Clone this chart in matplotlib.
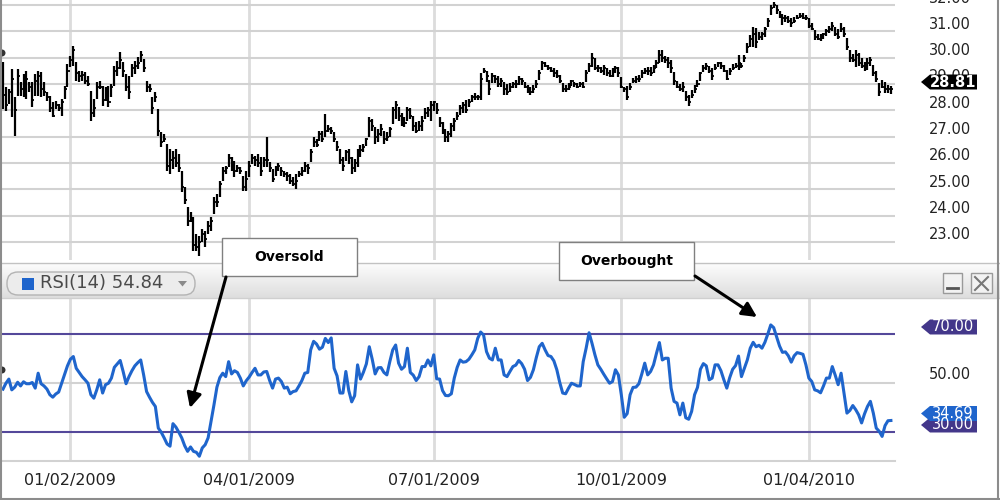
import numpy as np
import pandas as pd
import matplotlib
matplotlib.use("Agg")
import matplotlib.pyplot as plt
from matplotlib.patches import Rectangle, FancyBboxPatch, Polygon, Circle, FancyArrowPatch
from matplotlib.lines import Line2D
from matplotlib.colors import LinearSegmentedColormap
from matplotlib.transforms import IdentityTransform

# trading calendar of the chart (NYSE holidays removed)
holidays = ["2008-11-27", "2008-12-25", "2009-01-01", "2009-01-19", "2009-02-16",
            "2009-04-10", "2009-05-25", "2009-07-03", "2009-09-07", "2009-11-26",
            "2009-12-25", "2010-01-01", "2010-01-18", "2010-02-15"]
dates = pd.bdate_range("2008-11-28", "2010-02-12", freq="C", holidays=holidays)

# daily bars
closes = [
    28.6, 28.2, 28.7, 29.2, 28.0, 29.3, 28.8, 29.0, 29.2, 28.9,
    28.4, 29.1, 29.3, 28.8, 28.7, 28.5, 28.1, 27.8, 28.2, 28.1,
    28.3, 28.8, 29.5, 29.9, 30.3, 29.4, 29.3, 29.35, 29.1, 29.0,
    27.9, 28.1, 28.9, 28.9, 28.4, 28.6, 28.3, 28.9, 29.5, 29.6,
    29.9, 29.5, 28.9, 28.7, 29.6, 29.7, 29.8, 30.1, 29.6, 28.9,
    28.8, 28.1, 28.5, 27.2, 26.8, 26.9, 25.9, 26.1, 26.2, 26.0,
    25.8, 25.1, 24.6, 23.8, 23.9, 22.9, 22.8, 23.0, 23.3, 23.1,
    23.6, 23.8, 24.5, 24.5, 25.2, 25.7, 25.8, 26.2, 26.0, 25.7,
    25.8, 25.7, 25.1, 25.4, 25.9, 26.2, 26.1, 26.0, 25.7, 26.1,
    26.1, 25.8, 25.4, 25.8, 25.9, 25.7, 25.6, 25.5, 25.3, 25.2,
    25.3, 25.6, 25.7, 25.9, 25.8, 26.4, 26.8, 26.7, 27.1, 26.9,
    27.2, 27.3, 27.2, 26.9, 26.6, 26.1, 25.9, 26.4, 26.2, 25.8,
    26.0, 26.4, 26.5, 26.6, 26.9, 27.6, 27.4, 27.0, 27.1, 27.3,
    26.9, 27.0, 27.3, 28.0, 28.2, 27.8, 27.6, 27.5, 28.0, 27.8,
    27.4, 27.2, 27.4, 27.6, 27.9, 28.0, 28.2, 28.3, 28.0, 27.5,
    27.2, 27.0, 27.1, 27.4, 27.6, 27.8, 28.1, 28.2, 28.0, 28.3,
    28.5, 28.5, 28.5, 29.2, 29.5, 29.3, 28.8, 29.3, 29.2, 29.0,
    29.1, 28.8, 28.7, 28.9, 29.0, 29.0, 29.2, 29.1, 28.9, 28.8,
    28.7, 28.8, 29.0, 29.4, 29.8, 29.7, 29.6, 29.5, 29.4, 29.3,
    29.1, 28.8, 28.8, 28.9, 29.1, 29.0, 28.9, 29.0, 28.9, 29.4,
    29.7, 30.0, 29.6, 29.6, 29.5, 29.6, 29.4, 29.3, 29.5, 29.6,
    29.4, 28.9, 28.8, 28.5, 28.9, 29.1, 29.2, 29.2, 29.4, 29.5,
    29.5, 29.4, 29.6, 29.8, 30.1, 30.0, 29.9, 29.8, 29.6, 29.1,
    28.9, 28.8, 28.9, 28.5, 28.3, 28.6, 28.8, 29.0, 29.4, 29.6,
    29.7, 29.5, 29.3, 29.6, 29.8, 29.7, 29.5, 29.2, 29.5, 29.6,
    29.7, 29.8, 29.7, 30.0, 30.4, 30.7, 30.9, 30.6, 30.8, 30.9,
    31.1, 31.4, 31.9, 32.0, 31.8, 31.6, 31.5, 31.5, 31.4, 31.3,
    31.4, 31.5, 31.6, 31.5, 31.5, 31.2, 31.1, 30.8, 30.7, 30.8,
    30.9, 31.0, 31.1, 31.2, 30.9, 30.8, 31.1, 30.9, 30.4, 30.0,
    29.9, 30.1, 29.8, 29.7, 29.6, 29.8, 29.9, 29.4, 29.2, 28.7,
    28.9, 28.8, 28.8, 28.81,
]
highs = [
    29.82, 28.87, 28.8, 29.57, 28.5, 29.57, 29.06, 29.38, 29.51, 29.06,
    29.06, 29.38, 29.51, 29.44, 29.06, 28.68, 28.55, 28.3, 28.37, 28.24,
    28.43, 28.94, 29.76, 30.08, 30.46, 29.82, 29.51, 29.51, 29.44, 29.31,
    28.75, 28.43, 29.06, 29.13, 28.94, 28.87, 28.94, 29.0, 29.7, 29.89,
    30.2, 29.82, 29.38, 29.31, 29.76, 29.89, 30.01, 30.27, 29.95, 29.13,
    29.0, 28.49, 28.68, 28.05, 27.16, 27.1, 26.72, 26.53, 26.47, 26.53,
    26.34, 25.71, 25.08, 24.32, 24.13, 23.94, 23.3, 23.24, 23.49, 23.43,
    23.81, 23.94, 24.7, 24.82, 25.33, 25.84, 25.9, 26.34, 26.22, 26.09,
    25.94, 25.84, 25.52, 25.71, 26.09, 26.34, 26.28, 26.34, 26.22, 26.22,
    26.97, 26.03, 25.77, 25.9, 25.99, 25.84, 25.71, 25.65, 25.58, 25.46,
    25.58, 25.71, 25.84, 26.03, 25.96, 26.53, 26.97, 26.91, 27.23, 27.23,
    27.86, 27.46, 27.35, 27.16, 26.85, 26.53, 26.22, 26.49, 26.53, 26.22,
    26.15, 26.53, 26.7, 26.72, 26.95, 27.73, 27.67, 27.35, 27.29, 27.48,
    27.23, 27.16, 27.38, 28.11, 28.37, 28.14, 27.89, 27.76, 28.14, 28.09,
    27.8, 27.54, 27.61, 27.8, 28.09, 28.14, 28.37, 28.37, 28.27, 27.73,
    27.54, 27.3, 27.2, 27.5, 27.7, 27.95, 28.2, 28.33, 28.39, 28.42,
    28.58, 28.65, 28.58, 29.41, 29.6, 29.5, 29.15, 29.43, 29.34, 29.3,
    29.22, 29.09, 29.0, 29.03, 29.09, 29.15, 29.3, 29.22, 29.09, 28.96,
    28.87, 28.96, 29.15, 29.53, 29.89, 29.85, 29.72, 29.66, 29.6, 29.53,
    29.34, 29.03, 28.96, 29.03, 29.15, 29.09, 29.03, 29.09, 29.09, 29.53,
    29.78, 30.16, 29.97, 29.72, 29.66, 29.72, 29.6, 29.53, 29.6, 29.68,
    29.66, 29.25, 28.87, 28.92, 29.03, 29.22, 29.3, 29.34, 29.53, 29.6,
    29.66, 29.66, 29.72, 29.91, 30.29, 30.29, 30.06, 30.04, 29.91, 29.47,
    29.11, 29.0, 29.09, 28.75, 28.58, 28.77, 28.96, 29.15, 29.47, 29.72,
    29.78, 29.68, 29.6, 29.75, 29.85, 29.82, 29.72, 29.53, 29.6, 29.75,
    29.78, 30.1, 29.81, 30.1, 30.54, 30.86, 31.18, 31.11, 30.99, 30.99,
    31.18, 31.49, 32.0, 32.13, 32.0, 31.78, 31.66, 31.62, 31.58, 31.49,
    31.53, 31.62, 31.68, 31.68, 31.62, 31.49, 31.3, 31.05, 30.89, 30.9,
    30.95, 31.08, 31.2, 31.35, 31.15, 31.08, 31.3, 31.18, 30.73, 30.29,
    30.14, 30.29, 30.16, 29.97, 29.85, 29.97, 30.01, 29.72, 29.51, 29.05,
    29.15, 29.09, 28.96, 28.92,
]
lows = [
    28.05, 27.99, 28.24, 27.73, 27.04, 28.55, 28.55, 28.49, 28.43, 28.68,
    28.11, 28.55, 28.55, 28.49, 28.55, 28.37, 27.92, 27.73, 28.05, 27.99,
    27.8, 28.43, 28.87, 29.63, 29.7, 29.13, 29.06, 29.13, 29.0, 28.94,
    27.61, 27.73, 28.43, 28.81, 28.18, 28.37, 28.11, 28.49, 28.94, 29.32,
    29.57, 29.25, 28.75, 28.43, 29.25, 29.38, 29.57, 29.82, 29.44, 28.68,
    28.68, 27.86, 28.3, 27.04, 26.59, 26.78, 25.71, 25.58, 25.77, 25.84,
    25.65, 24.89, 24.44, 23.62, 23.75, 22.67, 22.67, 22.48, 22.99, 22.8,
    23.3, 23.43, 24.06, 24.32, 24.7, 25.33, 25.58, 25.84, 25.71, 25.46,
    25.65, 25.58, 24.95, 24.95, 25.46, 25.96, 25.9, 25.84, 25.52, 25.84,
    25.84, 25.65, 25.27, 25.52, 25.71, 25.52, 25.46, 25.33, 25.2, 25.14,
    25.01, 25.46, 25.52, 25.65, 25.58, 26.03, 26.59, 26.62, 26.85, 26.78,
    26.97, 27.16, 27.1, 26.78, 26.47, 25.96, 25.71, 26.09, 25.96, 25.58,
    25.65, 25.84, 26.22, 26.41, 26.66, 26.97, 27.23, 26.72, 26.78, 27.04,
    26.72, 26.85, 26.97, 27.48, 27.67, 27.61, 27.42, 27.35, 27.61, 27.67,
    27.23, 27.13, 27.2, 27.23, 27.67, 27.73, 27.61, 27.99, 27.86, 27.35,
    27.1, 26.8, 26.8, 27.0, 27.2, 27.63, 27.82, 27.89, 27.89, 28.11,
    28.33, 28.39, 28.39, 28.39, 29.41, 29.09, 28.58, 29.03, 29.03, 28.87,
    28.9, 28.58, 28.58, 28.71, 28.84, 28.84, 28.96, 28.96, 28.84, 28.67,
    28.58, 28.65, 28.84, 29.15, 29.53, 29.66, 29.53, 29.47, 29.28, 29.22,
    29.03, 28.71, 28.71, 28.77, 28.92, 28.9, 28.84, 28.87, 28.84, 29.09,
    29.47, 29.66, 29.53, 29.47, 29.41, 29.34, 29.3, 29.25, 29.28, 29.43,
    29.28, 28.84, 28.71, 28.39, 28.77, 29.03, 29.05, 29.09, 29.22, 29.38,
    29.34, 29.3, 29.41, 29.6, 29.78, 29.85, 29.81, 29.6, 29.41, 28.96,
    28.84, 28.75, 28.71, 28.37, 28.16, 28.46, 28.67, 28.9, 29.13, 29.47,
    29.53, 29.43, 29.15, 29.53, 29.66, 29.57, 29.47, 29.15, 29.34, 29.53,
    29.6, 29.53, 29.6, 29.85, 30.16, 30.42, 30.42, 30.35, 30.67, 30.67,
    30.8, 31.18, 31.62, 31.87, 31.66, 31.49, 31.24, 31.37, 31.33, 31.18,
    31.3, 31.46, 31.49, 31.46, 31.43, 31.11, 31.05, 30.67, 30.67, 30.65,
    30.7, 30.82, 30.92, 31.03, 30.82, 30.7, 30.99, 30.8, 30.29, 29.85,
    29.85, 29.66, 29.68, 29.6, 29.5, 29.53, 29.68, 29.3, 29.09, 28.54,
    28.84, 28.67, 28.67, 28.62,
]
# RSI(14)
rsi = [
    47.5, 49.9, 51.6, 47.2, 48.3, 50.3, 48.8, 50.5, 49.7, 49.7,
    50.2, 47.9, 54.0, 49.7, 48.8, 47.5, 45.2, 44.2, 45.5, 46.3,
    49.9, 53.6, 57.0, 59.7, 60.8, 56.0, 54.3, 52.6, 51.3, 49.9,
    45.2, 43.8, 47.2, 51.3, 45.9, 49.3, 49.9, 52.0, 56.4, 57.8,
    59.2, 54.7, 49.7, 52.6, 55.0, 57.0, 58.3, 59.4, 53.3, 46.5,
    44.2, 42.1, 40.4, 31.6, 29.9, 27.6, 25.1, 24.2, 33.4, 32.0,
    29.9, 27.6, 24.4, 22.1, 23.9, 22.1, 21.7, 20.1, 23.5, 24.8,
    27.6, 34.3, 41.1, 48.3, 52.2, 54.0, 52.6, 58.7, 53.7, 55.0,
    54.3, 52.0, 48.8, 50.9, 52.4, 54.3, 56.0, 53.3, 53.3, 54.5,
    54.7, 51.0, 47.9, 51.6, 52.0, 50.6, 47.9, 48.3, 45.6, 46.5,
    46.8, 48.8, 51.0, 54.0, 54.3, 63.5, 67.0, 65.9, 63.8, 64.6,
    68.2, 66.5, 68.4, 56.0, 52.9, 45.9, 45.9, 54.7, 46.9, 42.3,
    44.8, 57.4, 51.6, 54.4, 57.8, 64.8, 59.7, 53.7, 56.2, 56.3,
    54.3, 53.3, 58.7, 63.5, 65.5, 58.1, 55.6, 56.7, 64.2, 54.3,
    53.2, 51.0, 52.6, 56.7, 56.7, 59.4, 57.0, 61.5, 51.7, 51.6,
    46.9, 44.9, 44.8, 45.6, 52.0, 56.4, 59.4, 58.5, 58.7, 59.7,
    61.5, 63.5, 68.2, 70.8, 69.6, 62.8, 60.1, 59.4, 64.2, 59.4,
    59.4, 53.3, 52.6, 54.7, 56.7, 57.3, 59.2, 57.9, 55.6, 51.0,
    52.3, 55.4, 60.4, 64.8, 66.2, 63.5, 61.2, 60.8, 59.0, 55.4,
    50.2, 45.9, 45.6, 47.9, 49.9, 49.4, 48.8, 48.8, 58.7, 64.2,
    70.5, 66.2, 61.5, 57.4, 55.6, 53.6, 51.7, 49.9, 50.6, 55.4,
    53.3, 45.2, 36.0, 37.5, 45.2, 48.2, 48.3, 49.7, 53.7, 58.1,
    53.3, 54.7, 57.4, 62.1, 66.5, 59.4, 60.1, 60.1, 47.9, 42.5,
    41.8, 37.0, 41.8, 35.8, 35.2, 38.4, 45.2, 48.2, 55.6, 57.9,
    57.0, 51.3, 52.0, 57.4, 57.4, 55.0, 51.3, 47.9, 52.2, 55.6,
    57.1, 61.0, 52.6, 56.0, 59.4, 64.2, 66.6, 64.8, 65.4, 64.2,
    66.6, 70.0, 73.7, 72.6, 68.9, 65.1, 62.5, 62.7, 61.1, 58.5,
    61.1, 62.4, 62.1, 61.7, 57.4, 52.0, 50.6, 47.2, 46.8, 46.0,
    48.8, 52.0, 52.0, 56.7, 53.2, 49.3, 54.0, 45.9, 37.7, 38.8,
    40.8, 39.1, 37.0, 33.7, 37.4, 40.4, 42.5, 37.7, 31.6, 30.3,
    28.2, 32.6, 34.6, 34.69,
]

price_ticks = [23, 24, 25, 26, 27, 28, 29, 30, 31, 32]
last_price = 28.81
rsi_upper, rsi_mid, rsi_lower = 70, 50, 30
rsi_last = 34.69
rsi_header = "RSI(14) 54.84"
tick_dates = pd.to_datetime(["2009-01-02", "2009-04-01", "2009-07-01",
                             "2009-10-01", "2010-01-04"])
tick_labels = [d.strftime("%m/%d/%Y") for d in tick_dates]

x = np.arange(len(dates))
tick_pos = dates.get_indexer(tick_dates)

W, H = 1000, 500
fig = plt.figure(figsize=(10, 5), dpi=100)
px = IdentityTransform()


def fbox(x0, y0, x1, y1):
    # pixel box measured from the top-left -> figure fraction
    return [x0 / W, 1 - y1 / H, (x1 - x0) / W, (y1 - y0) / H]


GRID = "#d2d2d2"
VGRID = "#dcdcdc"
PURPLE = "#54489a"
TAGPURPLE = "#43378a"
BLUE = "#1f65cc"
XLIM = (-1.02, 304.4)

# ---- price panel
ax = fig.add_axes(fbox(0, 0, 895, 260))
ax.vlines(x, lows, highs, color="black", lw=1.6, zorder=3)
ax.hlines(closes, x, x + 0.7, color="black", lw=1.3, zorder=3)
ax.set_xlim(*XLIM)
ax.set_ylim(22.316, 32.19)
ax.set_yticks(price_ticks)
ax.set_xticks(tick_pos)
ax.grid(True, axis="y", color=GRID, lw=1.5)
ax.grid(True, axis="x", color=VGRID, lw=2.0)
ax.set_axisbelow(True)
ax.tick_params(left=False, bottom=False, labelleft=False, labelbottom=False)
for s in ax.spines.values():
    s.set_visible(False)

# ---- header strip of the RSI pane
axh = fig.add_axes(fbox(0, 263, 1000, 298))
axh.imshow(np.linspace(0, 1, 40).reshape(-1, 1), aspect="auto", extent=[0, 1, 0, 1],
           cmap=LinearSegmentedColormap.from_list("hdr", ["#fdfdfd", "#dedede"]))
axh.axis("off")

# ---- RSI panel
ax2 = fig.add_axes(fbox(0, 298, 895, 461))
ax2.plot(x, rsi, color=BLUE, lw=2.2, zorder=3)
ax2.axhline(rsi_upper, color=PURPLE, lw=1.5, zorder=2)
ax2.axhline(rsi_lower, color=PURPLE, lw=1.5, zorder=2)
ax2.set_xlim(*XLIM)
ax2.set_ylim(18.16, 84.69)
ax2.set_yticks([rsi_mid])
ax2.set_xticks(tick_pos)
ax2.set_xticklabels(tick_labels, fontsize=11.5, color="#222222")
ax2.grid(True, axis="y", color=GRID, lw=1.5)
ax2.grid(True, axis="x", color=VGRID, lw=2.0)
ax2.set_axisbelow(True)
ax2.tick_params(left=False, labelleft=False, length=0, pad=9)
for k, s in ax2.spines.items():
    s.set_visible(k == "bottom")
ax2.spines["bottom"].set_color(GRID)
ax2.spines["bottom"].set_linewidth(1.5)


def ypix(axis, v):
    return axis.transData.transform((0, v))[1]


def tag(axis, v, text, color, weight="normal"):
    yc = ypix(axis, v) + 7
    pts = [(921, yc), (930, yc + 7.5), (977, yc + 7.5), (977, yc - 7.5), (930, yc - 7.5)]
    fig.add_artist(Polygon(pts, closed=True, transform=px, fc=color, ec="none", zorder=5))
    fig.text(953, yc, text, transform=px, fontsize=10.5, color="white",
             ha="center", va="center", weight=weight, zorder=6)


for v in price_ticks:
    fig.text(929, ypix(ax, v) + 7, f"{v:.2f}", transform=px, fontsize=10.5,
             ha="left", va="center", color="#222222")
tag(ax, last_price, f"{last_price:.2f}", "black", weight="bold")

fig.text(929, ypix(ax2, rsi_mid) + 8, f"{rsi_mid:.2f}", transform=px, fontsize=10.5,
         ha="left", va="center", color="#222222")
tag(ax2, rsi_upper, f"{rsi_upper:.2f}", TAGPURPLE)
tag(ax2, rsi_lower, f"{rsi_lower:.2f}", TAGPURPLE)
tag(ax2, rsi_last, f"{rsi_last:.2f}", BLUE)

# header lines, pill and window buttons (display pixels, origin bottom-left)
for yy, col in [(H - 263, "#c2c2c2"), (H - 298, "#cfcfcf")]:
    fig.add_artist(Line2D([0, W], [yy, yy], transform=px, color=col, lw=1))
fig.add_artist(FancyBboxPatch((7, 205), 188, 23, boxstyle="round,pad=0,rounding_size=11",
                              transform=px, fc="#ececec", ec="#b3b3b3", lw=1, zorder=4))
fig.add_artist(Rectangle((22, 210), 12, 12, transform=px, fc=BLUE, ec="none", zorder=5))
fig.text(40, 216.5, rsi_header, transform=px, fontsize=13, color="#4a4a4a",
         ha="left", va="center", zorder=5)
fig.add_artist(Polygon([(178, 219), (187, 219), (182.5, 213.5)], transform=px,
                       fc="#8a8a8a", ec="none", zorder=5))
fig.add_artist(Rectangle((943, 207), 19, 20, transform=px, fc="#f2f2f2", ec="#9a9a9a", lw=1, zorder=4))
fig.add_artist(Line2D([947, 958], [212, 212], transform=px, color="#555555", lw=2, zorder=5))
fig.add_artist(Rectangle((971, 207), 21, 20, transform=px, fc="#f2f2f2", ec="#9a9a9a", lw=1, zorder=4))
fig.add_artist(Line2D([975, 988], [223, 210], transform=px, color="#777777", lw=1.5, zorder=5))
fig.add_artist(Line2D([975, 988], [210, 223], transform=px, color="#777777", lw=1.5, zorder=5))

# callouts
for (x0, y0, x1, y1), label in [((222, 238, 357, 276), "Oversold"),
                                ((559, 242, 694, 280), "Overbought")]:
    fig.add_artist(Rectangle((x0, H - y1), x1 - x0, y1 - y0, transform=px,
                             fc="white", ec="#808080", lw=1, zorder=7))
    fig.text((x0 + x1) / 2, H - (y0 + y1) / 2, label, transform=px, fontsize=10,
             weight="bold", ha="center", va="center", color="black", zorder=8)
for a, b in [((226, H - 277), (190, H - 408)), ((695, H - 276), (757, H - 317))]:
    fig.add_artist(FancyArrowPatch(a, b, transform=px, arrowstyle="-|>", mutation_scale=22,
                                   lw=2.2, color="black", shrinkA=0, shrinkB=0, zorder=7))

# small end markers on the left edge and outer frame
fig.add_artist(Circle((2, H - 53), 3.5, transform=px, fc="#333333", ec="none", zorder=6))
fig.add_artist(Circle((2, H - 370), 3.5, transform=px, fc="#333333", ec="none", zorder=6))
for xs, ys in [([1, 1], [0, H]), ([998, 998], [0, H]), ([0, W], [1.5, 1.5])]:
    fig.add_artist(Line2D(xs, ys, transform=px, color="#8c8c8c", lw=1.5, zorder=9))

fig.savefig("out.png", dpi=100)
